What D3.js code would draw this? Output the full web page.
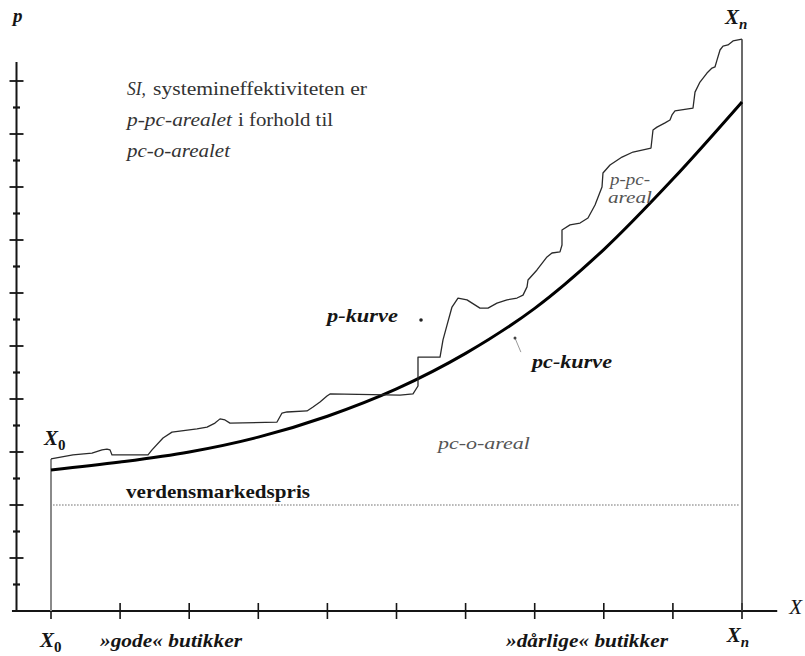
<!DOCTYPE html>
<html>
<head>
<meta charset="utf-8">
<script src="https://cdn.jsdelivr.net/npm/d3@7/dist/d3.min.js"></script>
<style>
  html, body { margin: 0; padding: 0; background: #fff; }
  svg { display: block; }
  text { font-family: "Liberation Serif", "Times New Roman", Times, "DejaVu Serif", serif; }
</style>
</head>
<body>
<svg id="chart" width="805" height="656"></svg>
<script>
// ---------- data ----------
const xTickValues = [0, 1, 2, 3, 4, 5, 6, 7, 8, 9, 10];
const yTickValues = [1, 2, 3, 4, 5, 6, 7, 8, 9, 10, 11, 12, 13, 14, 15, 16, 17, 18, 19, 20];

// pc-kurve (smooth cost curve)
const pcX = [0, 1, 2, 3, 4, 5, 6, 7, 8, 9, 10];
const pcValues = [5.32, 5.62, 6.0, 6.56, 7.35, 8.38, 9.72, 11.42, 13.64, 16.3, 19.21];

// p-kurve (jagged price curve)
const pX = [0, 0.318, 0.593, 0.738, 0.810, 0.854, 0.883, 1.404, 1.462, 1.621, 1.751, 2.113, 2.258, 2.373,
  2.446, 2.518, 2.590, 3.271, 3.343, 3.415, 3.705, 3.792, 3.893, 3.994, 4.038, 5.051, 5.239, 5.311, 5.311,
  5.630, 5.673, 5.731, 5.803, 5.890, 6.020, 6.208, 6.324, 6.454, 6.599, 6.744, 6.831, 6.889, 6.903, 7.033,
  7.178, 7.250, 7.366, 7.395, 7.395, 7.511, 7.656, 7.771, 7.873, 7.974, 7.988, 8.090, 8.264, 8.423, 8.683,
  8.712, 8.770, 8.886, 8.958, 8.987, 9.030, 9.291, 9.320, 9.392, 9.493, 9.566, 9.609, 9.638, 9.682, 9.725,
  9.797, 9.870, 10.0];
const pValues = [5.74, 5.89, 5.96, 6.08, 6.11, 6.08, 5.89, 5.89, 6.08, 6.53, 6.75, 6.87, 6.94, 7.09,
  7.25, 7.21, 7.09, 7.13, 7.47, 7.51, 7.55, 7.70, 7.89, 8.11, 8.19, 8.15, 8.19, 8.49, 9.58,
  9.58, 10.23, 10.79, 11.47, 11.81, 11.74, 11.43, 11.43, 11.62, 11.74, 11.81, 11.92, 12.23, 12.49, 12.87,
  13.36, 13.51, 13.55, 13.81, 14.38, 14.57, 14.64, 14.83, 15.32, 16.00, 16.53, 16.83, 17.13, 17.32, 17.47,
  18.15, 18.26, 18.42, 18.53, 18.72, 18.87, 18.98, 19.58, 19.96, 20.30, 20.49, 20.53, 20.79, 21.17, 21.32,
  21.36, 21.51, 21.58];

const worldPrice = 4;

// ---------- setup ----------
const svg = d3.select("#chart");
const x = d3.scaleLinear().domain([0, 10]).range([51, 742]);
const y = d3.scaleLinear().domain([0, 20]).range([611, 81]);
const ink = "#151515";

// ---------- axes ----------
svg.append("line")
  .attr("x1", 16.5).attr("x2", 16.5)
  .attr("y1", y(20.72)).attr("y2", y(0))
  .attr("stroke", ink).attr("stroke-width", 2);
svg.selectAll(".ytick").data(yTickValues).enter().append("line")
  .attr("class", "ytick")
  .attr("x1", d => d % 2 === 0 ? 9.5 : 13)
  .attr("x2", d => d % 2 === 0 ? 23.5 : 20)
  .attr("y1", d => y(d)).attr("y2", d => y(d))
  .attr("stroke", ink).attr("stroke-width", d => d % 2 === 0 ? 1.8 : 2.2);

svg.append("line")
  .attr("x1", x(-0.565)).attr("x2", x(10.51))
  .attr("y1", y(0)).attr("y2", y(0))
  .attr("stroke", ink).attr("stroke-width", 2);
svg.selectAll(".xtick").data(xTickValues).enter().append("line")
  .attr("class", "xtick")
  .attr("x1", d => x(d)).attr("x2", d => x(d))
  .attr("y1", y(0) - 8).attr("y2", y(0) + 8)
  .attr("stroke", ink).attr("stroke-width", 1.6);

// vertical boundary lines at X0 and Xn
svg.append("line")
  .attr("x1", x(0)).attr("x2", x(0))
  .attr("y1", y(pValues[0])).attr("y2", y(0))
  .attr("stroke", "#8a8a8a").attr("stroke-width", 2);
svg.append("line")
  .attr("x1", x(10)).attr("x2", x(10))
  .attr("y1", y(pValues[pValues.length - 1])).attr("y2", y(0))
  .attr("stroke", "#3a3a3a").attr("stroke-width", 1.5);

// world market price (dotted)
svg.append("line")
  .attr("x1", x(0.03)).attr("x2", x(9.97))
  .attr("y1", y(worldPrice)).attr("y2", y(worldPrice))
  .attr("stroke", "#6a6a6a").attr("stroke-width", 1.2)
  .attr("stroke-dasharray", "1.5,1.5");

// ---------- curves ----------
const pcLine = d3.line().x((d, i) => x(pcX[i])).y(d => y(d)).curve(d3.curveCatmullRom.alpha(0.5));
svg.append("path")
  .attr("d", pcLine(pcValues))
  .attr("fill", "none").attr("stroke", "#000").attr("stroke-width", 3);

const pLine = d3.line().x((d, i) => x(pX[i])).y(d => y(d));
svg.append("path")
  .attr("d", pLine(pValues))
  .attr("fill", "none").attr("stroke", "#2a2a2a").attr("stroke-width", 1.3)
  .attr("stroke-linejoin", "round");

// little pointer marks
svg.append("circle").attr("cx", x(5.355)).attr("cy", y(10.98)).attr("r", 1.8).attr("fill", "#222");
svg.append("line")
  .attr("x1", x(6.715)).attr("y1", y(10.30)).attr("x2", x(6.80)).attr("y2", y(9.77))
  .attr("stroke", "#999").attr("stroke-width", 1);
svg.append("circle").attr("cx", x(6.715)).attr("cy", y(10.30)).attr("r", 1.5).attr("fill", "#444");

// ---------- text ----------
function label(txt, xv, yv, opts) {
  const t = svg.append("text")
    .attr("x", x(xv)).attr("y", y(yv))
    .attr("font-size", opts.size)
    .attr("font-style", opts.italic ? "italic" : "normal")
    .attr("font-weight", opts.bold ? "bold" : "normal")
    .attr("fill", opts.fill || ink)
    .text(txt);
  if (opts.len) t.attr("textLength", opts.len).attr("lengthAdjust", "spacingAndGlyphs");
  return t;
}

svg.append("text").attr("x", 13).attr("y", 22)
  .attr("font-size", 19).attr("font-style", "italic").attr("font-weight", "bold")
  .attr("fill", ink).text("p");
svg.append("text").attr("x", x(10.51) + 12).attr("y", y(0) + 3)
  .attr("font-size", 21).attr("font-style", "italic")
  .attr("fill", ink).text("X");

function subLabel(main, sub, px, py) {
  const t = svg.append("text").attr("x", px).attr("y", py)
    .attr("font-size", 21).attr("font-style", "italic").attr("font-weight", "bold").attr("fill", ink);
  t.append("tspan").text(main);
  t.append("tspan").attr("font-size", 15).attr("dy", 5).attr("font-style", sub === "0" ? "normal" : "italic").text(sub);
}
subLabel("X", "0", x(-0.10), y(6.26));
subLabel("X", "n", x(9.754), y(22.15));
subLabel("X", "0", x(-0.16), y(0) + 36);
subLabel("X", "n", x(9.78), y(0) + 31);

label("SI,", 1.10, 19.47, { size: 19, italic: true, fill: "#333", len: 19 });
label("systemineffektiviteten er", 1.476, 19.47, { size: 19, fill: "#333", len: 214 });
label("p-pc-arealet", 1.10, 18.30, { size: 19, italic: true, fill: "#333", len: 105 });
label("i forhold til", 2.706, 18.30, { size: 19, fill: "#333", len: 95 });
label("pc-o-arealet", 1.10, 17.13, { size: 19, italic: true, fill: "#333", len: 103 });

label("p-kurve", 3.994, 10.91, { size: 18, italic: true, bold: true, len: 71 });
label("pc-kurve", 6.961, 9.17, { size: 18, italic: true, bold: true, len: 80 });
label("pc-o-areal", 5.60, 6.11, { size: 17, italic: true, fill: "#555", len: 92 });
label("p-pc-", 8.09, 16.08, { size: 16, italic: true, fill: "#555", len: 40 });
label("areal", 8.06, 15.40, { size: 16, italic: true, fill: "#555", len: 44 });
label("verdensmarkedspris", 1.085, 4.26, { size: 19, bold: true, len: 184 });

svg.append("text").attr("x", x(0.709)).attr("y", y(0) + 36)
  .attr("font-size", 18).attr("font-style", "italic").attr("font-weight", "bold").attr("fill", ink)
  .attr("textLength", 142).attr("lengthAdjust", "spacingAndGlyphs").text("»gode« butikker");
svg.append("text").attr("x", x(6.585)).attr("y", y(0) + 36)
  .attr("font-size", 18).attr("font-style", "italic").attr("font-weight", "bold").attr("fill", ink)
  .attr("textLength", 162).attr("lengthAdjust", "spacingAndGlyphs").text("»dårlige« butikker");
</script>
</body>
</html>
